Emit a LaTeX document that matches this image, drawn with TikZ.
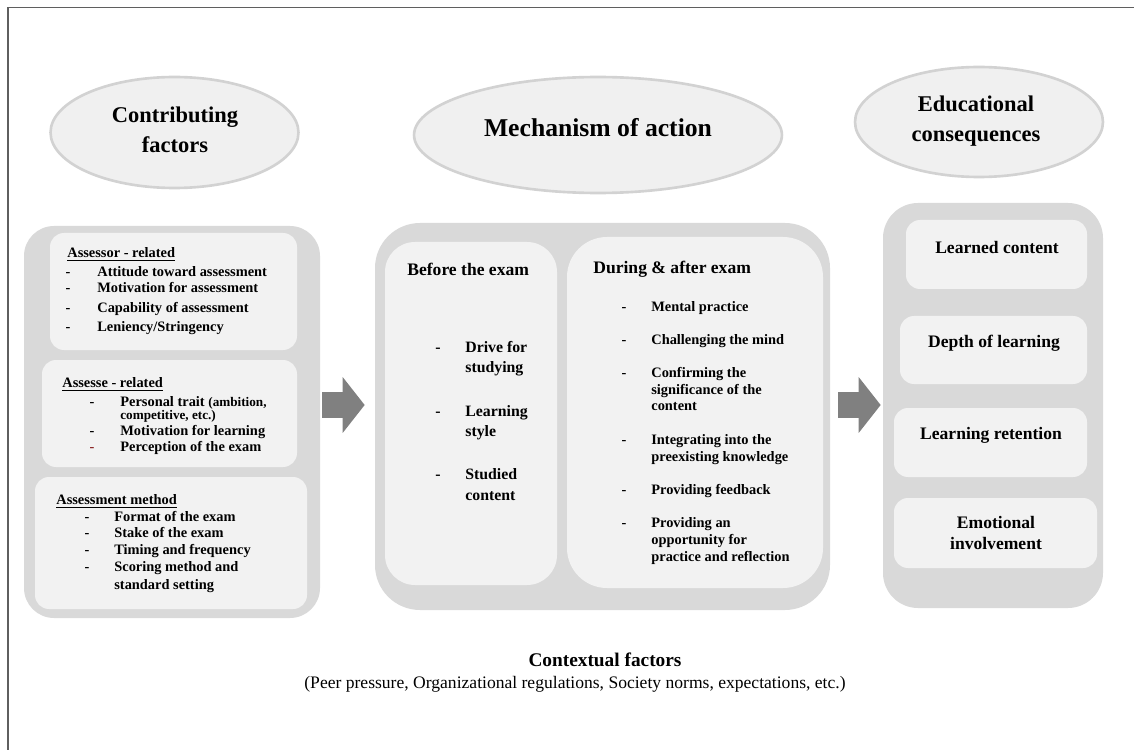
\documentclass[tikz,border=0pt]{standalone}
\usepackage{fontspec}
\setmainfont{Liberation Serif}
\usepackage{tikz}
\usetikzlibrary{fit,arrows.meta,shapes.geometric}
\usepackage{xcolor}
\definecolor{panelgray}{RGB}{217, 217, 217}
\definecolor{boxgray}{RGB}{242, 242, 242}
\definecolor{ovalfill}{RGB}{240, 240, 240}
\definecolor{ovalrim}{RGB}{210, 210, 210}
\definecolor{arrowgray}{RGB}{128, 128, 128}
\definecolor{framegray}{RGB}{95, 95, 95}
\definecolor{dashred}{RGB}{140, 40, 40}

\begin{document}
\begin{tikzpicture}[x=0.02cm, y=-0.02cm,
    every node/.style={inner sep=0pt, font=\bfseries},
    oval/.style={ellipse, fill=ovalfill, draw=ovalrim, line width=1.5pt},
    ovaltext/.style={align=center, font=\bfseries\fontsize{12.8}{17}\selectfont},
    panel/.style={fill=panelgray, rounded corners=#1},
    panel/.default=0.6cm,
    inbox/.style={fill=boxgray, rounded corners=#1},
    inbox/.default=0.28cm,
    hyph/.style={anchor=base, font=\bfseries\fontsize{8.2}{10}\selectfont},
    leftitem/.style={anchor=west, text height=1.6ex, text depth=0.45ex,
        font=\bfseries\fontsize{8.2}{10}\selectfont},
    miditem/.style={leftitem, font=\bfseries\fontsize{9}{11}\selectfont},
    boxhead/.style={anchor=west, font=\bfseries\fontsize{10}{12}\selectfont},
    outcome/.style={align=center, font=\bfseries\fontsize{10}{12}\selectfont},
    bigarrow/.style={draw=arrowgray, line width=0.52cm,
        -{Triangle[length=0.44cm, width=1.12cm, line width=0pt]}}]
\useasboundingbox (0,0) rectangle (1134,750);

% Page frame (left and top rule only)
\draw[framegray, line width=0.9pt] (8,750) -- (8,7.5) -- (1134,7.5);

% Column headings
\node[oval, minimum width=4.96cm, minimum height=2.22cm] (factoroval) at (174.5,132.5) {};
\node[ovaltext] (factortitle) at (175,130) {Contributing\\factors};
\node[oval, minimum width=7.36cm, minimum height=2.32cm] (mechoval) at (598,135) {};
\node[ovaltext, font=\bfseries\fontsize{14.6}{17}\selectfont] (mechtitle) at (598,128) {Mechanism of action};
\node[oval, minimum width=4.96cm, minimum height=2.2cm] (outoval) at (979,122) {};
\node[ovaltext] (outtitle) at (976,121) {Educational\\consequences};

% Contributing factors
\node[panel, fit={(24,226) (320,618)}] (factors) {};
\node[inbox, fit={(50,233) (297,350)}] (assessor) {};
\node[inbox, fit={(42,360) (297,467)}] (assessee) {};
\node[inbox, fit={(35,477) (307,609)}] (method) {};

\node[leftitem] (asrhead) at (67,253) {\underline{Assessor - related}};
\foreach \y/\txt [count=\i] in {272/Attitude toward assessment, 288/Motivation for assessment,
        308/Capability of  assessment, 327/{Leniency/Stringency}} {
    \node[leftitem] (asr\i) at (97,\y) {\txt};
    \node[hyph] (asrhy\i) at (68,0 |- asr\i.base) {-};
}

\node[leftitem] (asehead) at (62,383) {\underline{Assesse - related}};
\node[leftitem] (ase1) at (120,402) {Personal trait {\fontsize{7.5}{8}\selectfont(ambition,}};
\node[leftitem, font=\bfseries\fontsize{7.5}{8}\selectfont] (ase1b) at (120,415) {competitive, etc.)};
\node[leftitem] (ase2) at (120,431) {Motivation for learning};
\node[leftitem] (ase3) at (120,447) {Perception of the exam};
\node[hyph] (asehy1) at (92,0 |- ase1.base) {-};
\node[hyph] (asehy2) at (92,0 |- ase2.base) {-};
\node[hyph, text=dashred] (asehy3) at (92,0 |- ase3.base) {-};

\node[leftitem] (methead) at (56,500) {\underline{Assessment method}};
\foreach \y/\txt [count=\i] in {517/Format of the exam, 533/Stake of the exam,
        550/Timing and frequency, 567/Scoring method and} {
    \node[leftitem] (met\i) at (114,\y) {\txt};
    \node[hyph] (methy\i) at (87,0 |- met\i.base) {-};
}
\node[leftitem] (met5) at (114,585) {standard setting};

% Mechanism of action
\node[panel=0.9cm, fit={(375,223) (830,610)}] (mech) {};
\node[inbox=0.6cm, fit={(385,242) (557,585)}] (before) {};
\node[inbox=0.8cm, fit={(567,237) (823,588)}] (during) {};

\node[boxhead] (beforehead) at (407,269) {Before the exam};
\foreach \y/\txt [count=\i] in {348/Drive for, 368/studying, 412/Learning, 432/style,
        475/Studied, 496/content}
    \node[miditem] (bf\i) at (465,\y) {\txt};
\foreach \i in {1,3,5}
    \node[hyph, font=\bfseries\fontsize{9}{11}\selectfont] (bfhy\i) at (438,0 |- bf\i.base) {-};

\node[boxhead] (duringhead) at (593,269) {During \& after exam};
\foreach \y/\txt [count=\i] in {307/Mental practice, 340/Challenging the mind,
        373/Confirming the, 390/significance of the, 406/content,
        440/Integrating into the, 457/preexisting knowledge, 490/Providing feedback,
        523/Providing an, 540/opportunity for, 557/practice and reflection}
    \node[leftitem] (dr\i) at (651,\y) {\txt};
\foreach \i in {1,2,3,6,8,9}
    \node[hyph] (drhy\i) at (624,0 |- dr\i.base) {-};

% Educational consequences
\node[panel=0.7cm, fit={(883,203) (1103,608)}] (outcomes) {};
\node[inbox, fit={(906,220) (1087,289)}] (learned) {};
\node[inbox, fit={(900,316) (1087,384)}] (depth) {};
\node[inbox, fit={(894,408) (1087,477)}] (retention) {};
\node[inbox, fit={(894,498) (1097,568)}] (emotion) {};
\node[outcome] (learnedtext) at (997,247) {Learned content};
\node[outcome] (depthtext) at (994,343) {Depth of learning};
\node[outcome] (retentiontext) at (991,435) {Learning retention};
\node[outcome] (emotiontext) at (996,533) {Emotional\\involvement};

% Block arrows between the columns
\coordinate (arrowrow) at (0,405);
\draw[bigarrow, shorten <=0.04cm, shorten >=0.2cm] (factors.east |- arrowrow) -- (mech.west |- arrowrow);
\draw[bigarrow, shorten <=0.16cm, shorten >=0.04cm] (mech.east |- arrowrow) -- (outcomes.west |- arrowrow);

% Context line
\node[font=\bfseries\fontsize{11}{13}\selectfont] (context) at (605,660) {Contextual factors};
\node[font=\fontsize{10}{12}\selectfont] (contextnote) at (575,684)
    {(Peer pressure, Organizational regulations, Society norms, expectations, etc.)};
\end{tikzpicture}
\end{document}
